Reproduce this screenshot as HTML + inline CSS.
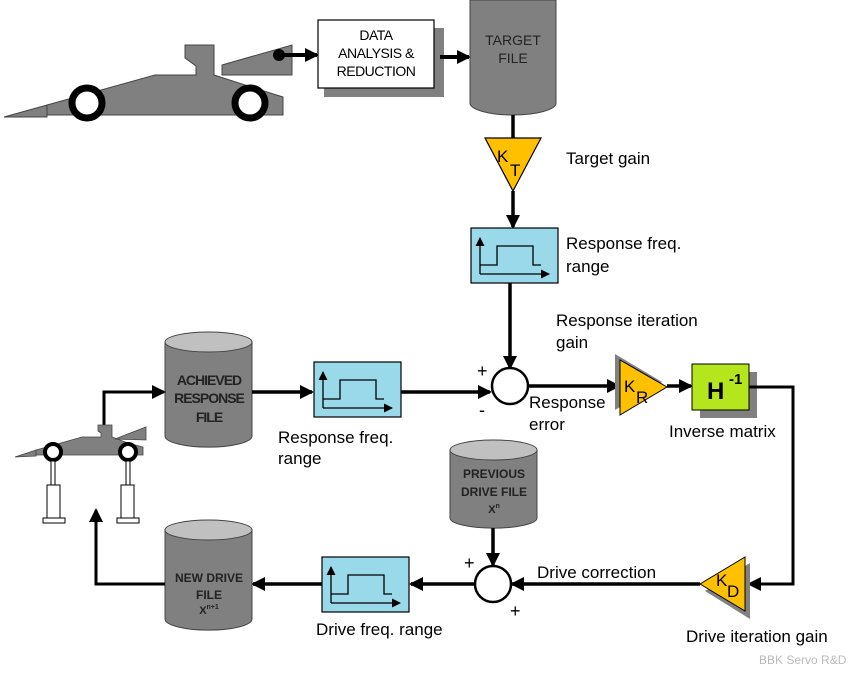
<!DOCTYPE html>
<html><head><meta charset="utf-8"><style>
html,body{margin:0;padding:0;background:#fff;}
svg{display:block;font-family:"Liberation Sans",Arial,sans-serif;}
</style></head><body>
<svg width="867" height="677" viewBox="0 0 867 677" xmlns="http://www.w3.org/2000/svg">
<defs>
<marker id="ah" markerWidth="14" markerHeight="14" refX="12" refY="7" orient="auto" markerUnits="userSpaceOnUse">
<path d="M0,0 L14,7 L0,14 z" fill="#000"/></marker>
<marker id="sa" markerWidth="9" markerHeight="9" refX="8" refY="4.5" orient="auto" markerUnits="userSpaceOnUse">
<path d="M0,0 L9,4.5 L0,9 z" fill="#000"/></marker>
<g id="flt">
<rect x="0" y="0" width="87" height="55" fill="#99d9ea" stroke="#000" stroke-width="1.2"/>
<line x1="9" y1="46" x2="9" y2="10" stroke="#000" stroke-width="1.3" marker-end="url(#sa)"/>
<line x1="9" y1="46" x2="78" y2="46" stroke="#000" stroke-width="1.3" marker-end="url(#sa)"/>
<polyline points="9,37 26,37 26,18 62,18 62,37 70,37" fill="none" stroke="#000" stroke-width="1.3"/>
</g>
</defs>

<!-- top car -->
<polygon points="4,117 47,105 47,117" fill="#808080" stroke="#444" stroke-width="1"/>
<polygon points="47,115 47,105 155,75 196,75 196,66 185,58 185,45 214,45 214,75 245,85 283,97 283,115" fill="#808080" stroke="#444" stroke-width="1"/>
<polygon points="222,65 292,45 292,75 222,75" fill="#808080" stroke="#444" stroke-width="1"/>
<circle cx="87" cy="103" r="15" fill="#fff" stroke="#000" stroke-width="7"/>
<circle cx="250" cy="103" r="15" fill="#fff" stroke="#000" stroke-width="7"/>
<circle cx="279" cy="55" r="6" fill="#000"/>
<line x1="279" y1="55" x2="317" y2="55" stroke="#000" stroke-width="4" marker-end="url(#ah)"/>
<rect x="324" y="28" width="120" height="69" fill="#808080"/>
<rect x="318" y="20" width="116" height="68" fill="#fff" stroke="#000" stroke-width="1.2"/>
<text x="376" y="40" font-size="14" text-anchor="middle" letter-spacing="-0.5">DATA</text>
<text x="376" y="58" font-size="14" text-anchor="middle" letter-spacing="-0.5">ANALYSIS &amp;</text>
<text x="376" y="76" font-size="14" text-anchor="middle" letter-spacing="-0.5">REDUCTION</text>
<line x1="440" y1="57" x2="469" y2="57" stroke="#000" stroke-width="4" marker-end="url(#ah)"/>
<!-- target cylinder -->
<path d="M470,0 L470,103 A43,12 0 0 0 556,103 L556,0 Z" fill="#808080" stroke="#444" stroke-width="1"/>
<text x="513" y="45" font-size="14" fill="#222" text-anchor="middle">TARGET</text>
<text x="513" y="63" font-size="14" fill="#222" text-anchor="middle">FILE</text>
<line x1="513" y1="115" x2="513" y2="138" stroke="#000" stroke-width="3.5"/>
<polygon points="485,138 541,138 513,191" fill="#ffc000" stroke="#000" stroke-width="1.2"/>
<text x="497" y="162" font-size="17" fill="#000">K</text><text x="510" y="176" font-size="17">T</text>
<line x1="513" y1="191" x2="513" y2="227" stroke="#000" stroke-width="3.5" marker-end="url(#ah)"/>
<use href="#flt" x="471" y="228"/>
<line x1="510" y1="283" x2="510" y2="368" stroke="#000" stroke-width="3.5" marker-end="url(#ah)"/>
<text x="566" y="164" font-size="17">Target gain</text>
<text x="566" y="249" font-size="17">Response freq.</text>
<text x="566" y="272" font-size="17">range</text>
<text x="556" y="326" font-size="17">Response iteration</text>
<text x="556" y="348" font-size="17">gain</text>

<!-- summing 1 -->
<circle cx="510" cy="386" r="18" fill="#fff" stroke="#000" stroke-width="2.5"/>
<text x="477" y="377" font-size="18">+</text>
<text x="479" y="416" font-size="18">-</text>
<text x="529" y="408" font-size="17">Response</text>
<text x="529" y="430" font-size="17">error</text>
<line x1="528" y1="386" x2="619" y2="386" stroke="#000" stroke-width="3.5" marker-end="url(#ah)"/>
<polygon points="615,354 615,410 662,382" fill="#808080"/>
<polygon points="620,360 620,415 667,387" fill="#ffc000" stroke="#000" stroke-width="1"/>
<text x="624" y="392" font-size="17">K</text><text x="636" y="403" font-size="17">R</text>
<line x1="667" y1="386" x2="691" y2="386" stroke="#000" stroke-width="3.5" marker-end="url(#ah)"/>
<rect x="700" y="372" width="57" height="46" fill="#808080"/>
<rect x="692" y="364" width="57" height="46" fill="#b5e61d" stroke="#000" stroke-width="1"/>
<text x="707" y="399" font-size="24" font-weight="bold">H</text><text x="729" y="384" font-size="15" font-weight="bold">-1</text>
<text x="669" y="437" font-size="17">Inverse matrix</text>
<polyline points="749,387 793,387 793,584 760,584" fill="none" stroke="#000" stroke-width="3"/>
<line x1="770" y1="584" x2="749" y2="584" stroke="#000" stroke-width="3" marker-end="url(#ah)"/>
<polygon points="750,563 750,619 705,591" fill="#808080"/>
<polygon points="745,557 745,611 700,584" fill="#ffc000" stroke="#000" stroke-width="1"/>
<text x="716" y="586" font-size="17">K</text><text x="727" y="597" font-size="17">D</text>
<text x="686" y="642" font-size="17">Drive iteration gain</text>
<line x1="700" y1="584" x2="512" y2="584" stroke="#000" stroke-width="3.5" marker-end="url(#ah)"/>
<text x="537" y="578" font-size="17">Drive correction</text>

<!-- previous drive cylinder -->
<path d="M450,450 L450,518 A43,10 0 0 0 537,518 L537,450 Z" fill="#808080" stroke="#444" stroke-width="1"/>
<ellipse cx="493.5" cy="450" rx="43.5" ry="10" fill="#c0c0c0" stroke="#444" stroke-width="1"/>
<text x="494" y="478" font-size="12" font-weight="bold" fill="#222" text-anchor="middle">PREVIOUS</text>
<text x="494" y="496" font-size="12" font-weight="bold" fill="#222" text-anchor="middle">DRIVE FILE</text>
<text x="494" y="513" font-size="11" font-weight="bold" fill="#222" text-anchor="middle">X<tspan font-size="7" dy="-5">n</tspan></text>
<line x1="493" y1="528" x2="493" y2="565" stroke="#000" stroke-width="3.5" marker-end="url(#ah)"/>
<circle cx="493" cy="584" r="18" fill="#fff" stroke="#000" stroke-width="2.5"/>
<text x="464" y="569" font-size="18">+</text>
<text x="510" y="617" font-size="18">+</text>
<line x1="475" y1="584" x2="411" y2="584" stroke="#000" stroke-width="3.5" marker-end="url(#ah)"/>
<use href="#flt" x="322" y="557"/>
<text x="316" y="635" font-size="17">Drive freq. range</text>
<line x1="322" y1="584" x2="253" y2="584" stroke="#000" stroke-width="3.5" marker-end="url(#ah)"/>
<!-- new drive cylinder -->
<path d="M165,530 L165,619 A43,11 0 0 0 252,619 L252,530 Z" fill="#808080" stroke="#444" stroke-width="1"/>
<ellipse cx="208.5" cy="530" rx="43.5" ry="10" fill="#c0c0c0" stroke="#444" stroke-width="1"/>
<text x="209" y="582" font-size="12" font-weight="bold" fill="#222" text-anchor="middle">NEW DRIVE</text>
<text x="209" y="599" font-size="12" font-weight="bold" fill="#222" text-anchor="middle">FILE</text>
<text x="209" y="614" font-size="11" font-weight="bold" fill="#222" text-anchor="middle">X<tspan font-size="7" dy="-5">n+1</tspan></text>
<polyline points="165,584 96,584 96,520" fill="none" stroke="#000" stroke-width="3"/>
<line x1="96" y1="540" x2="96" y2="510" stroke="#000" stroke-width="3" marker-end="url(#ah)"/>

<!-- achieved cylinder -->
<path d="M165,342 L165,436 A43,11 0 0 0 252,436 L252,342 Z" fill="#808080" stroke="#444" stroke-width="1"/>
<ellipse cx="208.5" cy="342" rx="43.5" ry="10" fill="#c0c0c0" stroke="#444" stroke-width="1"/>
<text x="209" y="385" font-size="14" font-weight="bold" fill="#222" text-anchor="middle" letter-spacing="-1">ACHIEVED</text>
<text x="209" y="403" font-size="14" font-weight="bold" fill="#222" text-anchor="middle" letter-spacing="-1">RESPONSE</text>
<text x="209" y="422" font-size="14" font-weight="bold" fill="#222" text-anchor="middle" letter-spacing="-1">FILE</text>
<polyline points="104,427 104,392 150,392" fill="none" stroke="#000" stroke-width="3"/>
<line x1="140" y1="392" x2="164" y2="392" stroke="#000" stroke-width="3" marker-end="url(#ah)"/>
<line x1="252" y1="392" x2="312" y2="392" stroke="#000" stroke-width="3.5" marker-end="url(#ah)"/>
<use href="#flt" x="314" y="362"/>
<line x1="401" y1="392" x2="490" y2="392" stroke="#000" stroke-width="3.5" marker-end="url(#ah)"/>
<text x="278" y="443" font-size="17">Response freq.</text>
<text x="278" y="464" font-size="17">range</text>

<!-- small car on rig -->
<polygon points="15,457 36,450 36,456" fill="#808080" stroke="#444" stroke-width="0.8"/>
<polygon points="36,456 36,450 82,437 101,437 101,433 98,431 98,425 112,425 112,437 128,443 143,447 143,455 36,455" fill="#808080" stroke="#444" stroke-width="0.8"/>
<polygon points="115,439 146,427 146,440" fill="#808080" stroke="#444" stroke-width="0.8"/>
<circle cx="53" cy="452" r="8" fill="#fff" stroke="#000" stroke-width="4"/>
<circle cx="128" cy="452" r="8" fill="#fff" stroke="#000" stroke-width="4"/>
<rect x="51" y="461" width="4" height="25" fill="#fff" stroke="#000" stroke-width="1"/>
<rect x="126" y="461" width="4" height="25" fill="#fff" stroke="#000" stroke-width="1"/>
<rect x="47" y="485" width="13" height="33" fill="#fff" stroke="#000" stroke-width="1"/>
<rect x="121" y="485" width="13" height="33" fill="#fff" stroke="#000" stroke-width="1"/>
<rect x="43" y="518" width="22" height="5" fill="#fff" stroke="#000" stroke-width="1"/>
<rect x="117" y="518" width="22" height="5" fill="#fff" stroke="#000" stroke-width="1"/>

<text x="759" y="664" font-size="12" fill="#bbb">BBK Servo R&amp;D</text>
</svg>
</body></html>
